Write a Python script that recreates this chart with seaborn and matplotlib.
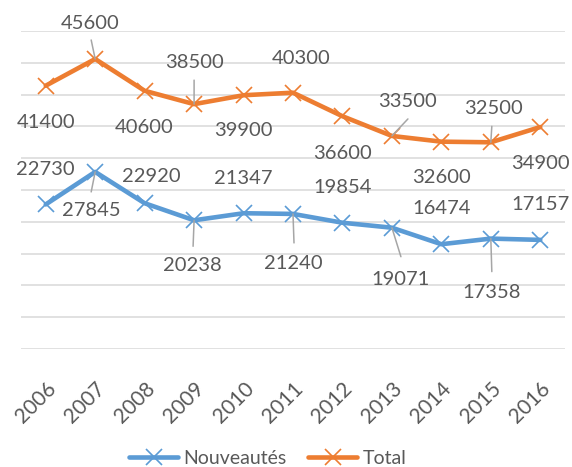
import matplotlib
matplotlib.use("Agg")
import matplotlib.pyplot as plt
import seaborn as sns
import pandas as pd

years = ["2006", "2007", "2008", "2009", "2010", "2011", "2012", "2013", "2014", "2015", "2016"]
nouveautes = [22730, 27845, 22920, 20238, 21347, 21240, 19854, 19071, 16474, 17358, 17157]
total = [41400, 45600, 40600, 38500, 39900, 40300, 36600, 33500, 32600, 32500, 34900]
series_names = ["Nouveautés", "Total"]

# label offsets in pixels (dx, dy up) and leader line start offsets (None = no leader)
total_lbl = [(0, -37), (-5, 35), (0, -37), (0, 42), (0, -35), (8, 34), (0, -37), (16, 34), (0, -36), (3, 34), (0, -36)]
total_lead = [None, (-4, 19), None, (0, 24), None, None, None, (16, 17), None, (1, 16), None]
nouv_lbl = [(0, 35), (-4, -39), (7, 27), (-2, -45), (0, 35), (0, -50), (0, 35), (9, -52), (0, 36), (1, -54), (0, 35)]
nouv_lead = [None, (-4, -20), None, (-1, -26), None, (1, -29), None, (9, -29), None, (1, -33), None]

sns.set_theme(style="white")
plt.rcParams["font.family"] = ["Lato", "DejaVu Sans"]

colors = ["#5B9BD5", "#ED7D31"]
txt = "#595959"

df = pd.DataFrame({
    "pos": list(range(len(years))) * 2,
    "value": nouveautes + total,
    "series": [series_names[0]] * len(years) + [series_names[1]] * len(years),
})

fig = plt.figure(figsize=(5.72, 4.67), dpi=100)
ax = fig.add_axes([21 / 572, 1 - 349 / 467, (565 - 21) / 572, (349 - 31) / 467])

sns.lineplot(data=df, x="pos", y="value", hue="series", palette=colors, ax=ax,
             marker="x", markersize=12, markeredgewidth=1.2, linewidth=3.3,
             legend=False, sort=False, zorder=3)
for ln, c in zip(ax.lines, colors):
    ln.set_markeredgecolor(c)
    ln.set_solid_capstyle("round")
    ln.set_solid_joinstyle("round")

ax.set_xlim(-0.5, len(years) - 0.5)
ax.set_ylim(0, 50000)
ax.set_yticks(range(0, 50001, 5000))
ax.set_yticklabels([])
ax.yaxis.grid(True, color="#d9d9d9", linewidth=1.1)
ax.xaxis.grid(False)
for s in ax.spines.values():
    s.set_visible(False)
ax.tick_params(axis="both", length=0)
ax.set_xticks(range(len(years)))
ax.set_xticklabels(years, rotation=45, ha="right", va="top", rotation_mode="anchor",
                   fontsize=15, color=txt)
ax.tick_params(axis="x", pad=21)
ax.set_xlabel("")
ax.set_ylabel("")

def label_series(vals, lbls, leads):
    for i, v in enumerate(vals):
        dx, dy = lbls[i]
        ax.annotate(str(v), xy=(i, v), xytext=(dx, dy), textcoords="offset pixels",
                    ha="center", va="center", fontsize=14.5, color=txt, zorder=5)
        if leads[i] is not None:
            ax.annotate("", xy=(i, v), xytext=leads[i], textcoords="offset pixels",
                        arrowprops=dict(arrowstyle="-", color="#a6a6a6", lw=1.1,
                                        shrinkA=0, shrinkB=0), zorder=4)

label_series(total, total_lbl, total_lead)
label_series(nouveautes, nouv_lbl, nouv_lead)

from matplotlib.lines import Line2D
handles = [Line2D([], [], color=c, lw=3.3, marker="x", markersize=12, markeredgewidth=1.2,
                  markeredgecolor=c, solid_capstyle="round") for c in colors]
fig.legend(handles, series_names, loc="center", bbox_to_anchor=(268 / 572, 1 - 458 / 467),
           ncol=2, frameon=False, fontsize=14, labelcolor=txt,
           handlelength=2.5, handletextpad=0.3, columnspacing=1.1)

fig.savefig("out.png", dpi=100)
